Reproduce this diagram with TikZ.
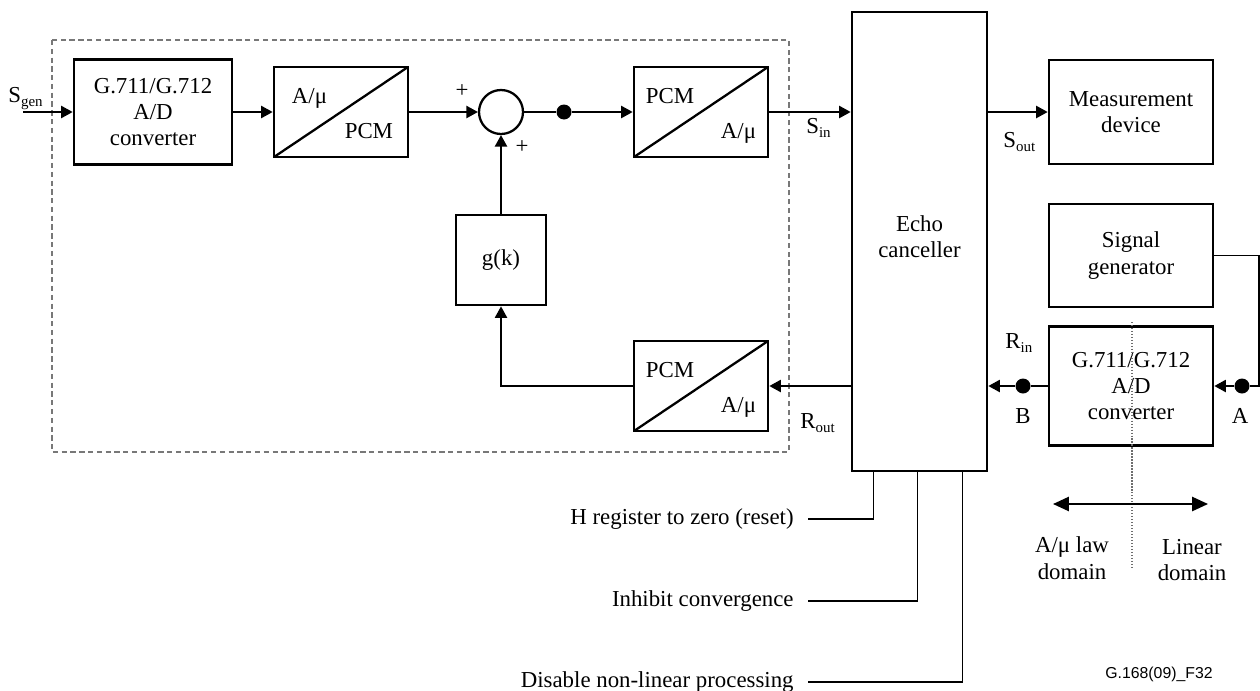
\documentclass[tikz,border=0pt]{standalone}
\usepackage{fontspec}
\setmainfont{Liberation Serif}
\newfontfamily\figfont{Liberation Sans}
\usetikzlibrary{arrows.meta,positioning,calc}
\definecolor{dashgray}{RGB}{120,120,120}
\definecolor{dotgray}{RGB}{110,110,110}
\newcommand{\lowsub}[1]{\raisebox{-0.45ex}{\fontsize{8.5}{9}\selectfont #1}}

\begin{document}
\begin{tikzpicture}[x=0.02cm, y=-0.02cm,
  font=\fontsize{13}{15}\selectfont,
  blk/.style = {rectangle, draw, line width=1.6pt, align=center, inner sep=0pt},
  conv/.style = {blk, minimum width=2.68cm, minimum height=1.8cm,
    path picture={\draw[line width=1.3pt] (path picture bounding box.south west) -- (path picture bounding box.north east);}},
  ln/.style = {line width=0.65pt},
  arr/.style = {ln, -{Triangle[length=6.5pt,width=7pt]}},
  jdot/.style = {circle, fill, inner sep=0pt, minimum size=0.3cm},
  lbl/.style = {inner sep=0pt, anchor=base west},
  ctl/.style = {anchor=east, inner xsep=8pt, inner ysep=0pt}
]
  \useasboundingbox (0,0) rectangle (1260,690);

  % near-end path (dashed frame)
  \draw[dashgray, line width=0.7pt, dash pattern=on 3pt off 2pt] (52,40) rectangle (789,452);

  \node[blk, minimum width=3.16cm, minimum height=2.1cm] (adc1) at (153,112) {G.711/G.712\\A/D\\converter};
  \node[conv] (enc1) at (341,112) {};
  \node[lbl] (enc1a) at ($(enc1.west)+(19,-9)$) {A/μ};
  \node[lbl, anchor=base east] (enc1b) at ($(enc1.east)+(-16,26)$) {PCM};
  \node[circle, draw, line width=1.3pt, minimum size=0.88cm, inner sep=0pt] (sum) at (501,112) {};
  \node[inner sep=0pt, font=\fontsize{13}{13}\selectfont] (plus1) at (462,91) {+};
  \node[inner sep=0pt, font=\fontsize{13}{13}\selectfont] (plus2) at (522,147) {+};
  \node[jdot] (tap) at (564,112) {};
  \node[conv] (dec1) at (701,112) {};
  \node[lbl] (dec1a) at ($(dec1.west)+(13,-9)$) {PCM};
  \node[lbl, anchor=base east] (dec1b) at ($(dec1.east)+(-13,26)$) {A/μ};
  \node[blk, minimum size=1.8cm] (gk) at (501,260) {g(k)};
  \node[conv] (dec2) at (701,386) {};
  \node[lbl] (dec2a) at ($(dec2.west)+(13,-9)$) {PCM};
  \node[lbl, anchor=base east] (dec2b) at ($(dec2.east)+(-13,26)$) {A/μ};

  % echo canceller and far end
  \node[blk, minimum width=2.7cm, minimum height=9.18cm] (ec) at (919.5,241.5) {};
  \node[align=center, inner sep=0pt] (ectxt) at (919.5,237) {Echo\\canceller};
  \node[blk, minimum width=3.28cm, minimum height=2.08cm] (meas) at (1131,112) {Measurement\\device};
  \node[blk, minimum width=3.28cm, minimum height=2.06cm] (sgen) at (1131,255.5) {Signal\\generator};
  \node[blk, minimum width=3.28cm, minimum height=2.38cm] (adc2) at (1131,386) {G.711/G.712\\A/D\\converter};
  \node[jdot] (ptB) at (1023,386) {};
  \node[jdot] (ptA) at (1242,386) {};

  % signal labels
  \node[lbl] (lsgen) at (8,102) {S\lowsub{gen}};
  \node[lbl] (lsin) at (806,133) {S\lowsub{in}};
  \node[lbl] (lsout) at (1003,147) {S\lowsub{out}};
  \node[lbl] (lrin) at (1005,348) {R\lowsub{in}};
  \node[lbl] (lrout) at (800,428) {R\lowsub{out}};
  \node[anchor=base, inner sep=0pt] (lB) at (1023,423) {B};
  \node[anchor=base, inner sep=0pt] (lA) at (1240,423) {A};

  % control inputs
  \node[ctl] (hreg) at (808,519) {H register to zero (reset)};
  \node[ctl] (inhib) at (808,601) {Inhibit convergence};
  \node[ctl] (nlp) at (808,682) {Disable non-linear processing};

  \coordinate (gin) at (23,112);
  \coordinate (rt) at (1259,386);

  \draw[arr] (gin) -- (adc1.west);
  \draw[arr] (adc1.east) -- (enc1.west);
  \draw[arr] (enc1.east) -- (sum.west);
  \draw[ln]  (sum.east) -- (tap);
  \draw[arr] (tap) -- (dec1.west);
  \draw[arr] (dec1.east) -- (dec1.east -| ec.west);
  \draw[arr] (ec.east |- meas.west) -- (meas.west);
  \draw[arr] (ec.west |- dec2.east) -- (dec2.east);
  \draw[arr] (dec2.west) -| (gk.south);
  \draw[arr] (gk.north) -- (sum.south);
  \draw[ln]  (adc2.west) -- (ptB);
  \draw[arr] (ptB) -- (ptB -| ec.east);
  \draw[ln]  (sgen.east) -| (rt) -- (ptA);
  \draw[arr] (ptA) -- (adc2.east);

  \draw[ln] (hreg.east)  -| ($(ec.south west)+(23,0)$);
  \draw[ln] (inhib.east) -| ($(ec.south west)+(67,0)$);
  \draw[ln] (nlp.east)   -| ($(ec.south west)+(112,0)$);

  % law domains
  \draw[dotgray, densely dotted, line width=0.7pt] (1132,322) -- (1132,567);
  \coordinate (dl) at (1053,504);
  \coordinate (dr) at (1208,504);
  \draw[line width=1.2pt, {Triangle[length=9pt,width=8pt]}-{Triangle[length=9pt,width=8pt]}] (dl) -- (dr);
  \node[align=center, inner sep=0pt] (lawdom) at (1072,558) {A/μ law\\domain};
  \node[align=center, inner sep=0pt] (lindom) at (1192,560) {Linear\\domain};

  \node[anchor=base, inner sep=0pt, font=\figfont\fontsize{9}{10}\selectfont] (figid) at (1159,678) {G.168(09)\_F32};
\end{tikzpicture}
\end{document}
